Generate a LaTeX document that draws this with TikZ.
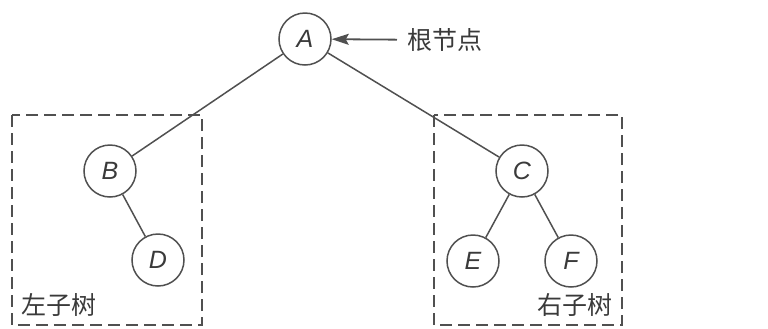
\documentclass[tikz,border=0pt]{standalone}
\usepackage{fontspec}
\setmainfont{Liberation Sans}
\newfontfamily\cjk{Noto Sans CJK SC}
\usetikzlibrary{arrows.meta}
\definecolor{linegray}{HTML}{505050}
\definecolor{textgray}{HTML}{3A3A3A}

\begin{document}
\begin{tikzpicture}[
  x=0.5pt,y=-0.5pt,
  every node/.style={font=\fontsize{11.5}{13}\selectfont,text=textgray},
  vertex/.style={circle,draw=linegray,line width=0.75pt,minimum size=26pt,inner sep=0pt,font=\fontsize{12.5}{14}\selectfont\itshape},
  label/.style={inner sep=0pt,font=\fontsize{12.5}{14}\selectfont\cjk},
  edge/.style={line width=0.75pt,color=linegray},
  arrow/.style={-{Stealth[length=8.5pt,width=5.5pt,inset=1.5pt]},line width=0.9pt,color=linegray},
  subtree/.style={dashed,dash pattern=on 6pt off 3pt,line width=0.75pt,color=linegray}
]
\useasboundingbox (0,0) rectangle (768,328);

\node[vertex] (A) at (305,39) {A};
\node[vertex] (B) at (110,171) {B};
\node[vertex] (D) at (158,260) {D};
\node[vertex] (C) at (522,171) {C};
\node[vertex] (E) at (473,261) {E};
\node[vertex] (F) at (571,261) {F};

\node[label,anchor=west,inner sep=5pt] (root) at (397,40) {根节点};
\node[label,anchor=west] (ltree) at (21,305) {左子树};
\node[label,anchor=east] (rtree) at (613,305) {右子树};

\draw[subtree] (12,115) rectangle (202,325);
\draw[subtree] (434,115) rectangle (622,325);

\draw[edge] (A) -- (B);
\draw[edge] (A) -- (C);
\draw[edge] (B) -- (D);
\draw[edge] (C) -- (E);
\draw[edge] (C) -- (F);

\draw[arrow] (root) -- (A);
\end{tikzpicture}
\end{document}
